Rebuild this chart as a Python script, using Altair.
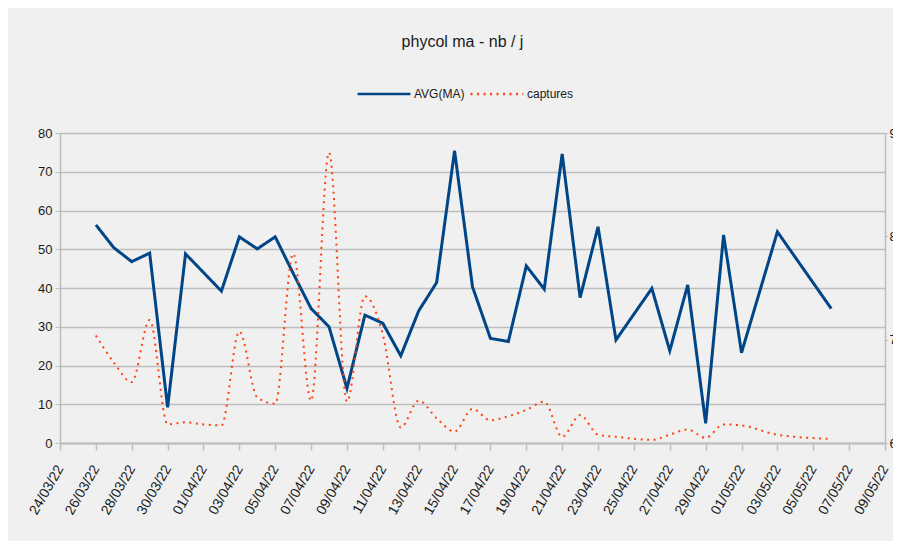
import altair as alt
import pandas as pd

# ---- data ----
dates = ["2022-03-26", "2022-03-27", "2022-03-28", "2022-03-29", "2022-03-30",
         "2022-03-31", "2022-04-01", "2022-04-02", "2022-04-03", "2022-04-04",
         "2022-04-05", "2022-04-06", "2022-04-07", "2022-04-08", "2022-04-09",
         "2022-04-10", "2022-04-11", "2022-04-12", "2022-04-13", "2022-04-14",
         "2022-04-15", "2022-04-16", "2022-04-17", "2022-04-18", "2022-04-19",
         "2022-04-20", "2022-04-21", "2022-04-22", "2022-04-23", "2022-04-24",
         "2022-04-26", "2022-04-27", "2022-04-28", "2022-04-29", "2022-04-30",
         "2022-05-01", "2022-05-03", "2022-05-06"]

avg_ma = [56.3, 50.4, 46.8, 49.0, 9.2, 48.8, 44.0, 39.2, 53.2, 50.1,
          53.2, 43.8, 34.7, 30.0, 14.1, 33.0, 30.9, 22.5, 34.1, 41.4,
          75.4, 40.3, 27.0, 26.2, 45.7, 39.7, 74.6, 37.5, 55.8, 26.6,
          39.9, 23.8, 40.8, 5.1, 53.7, 23.3, 54.5, 34.7]

captures = [7.04, 6.78, 6.59, 7.19, 6.18, 6.20, 6.18, 6.17, 7.08, 6.44,
            6.38, 7.83, 6.41, 8.81, 6.40, 7.42, 7.05, 6.15, 6.41, 6.24,
            6.11, 6.33, 6.22, 6.26, 6.32, 6.40, 6.06, 6.27, 6.08, 6.06,
            6.03, 6.08, 6.13, 6.05, 6.18, 6.17, 6.08, 6.04]

series_names = ["AVG(MA)", "captures"]
series_colors = ["#004586", "#ff420e"]
left_ticks = [0, 10, 20, 30, 40, 50, 60, 70, 80]
right_ticks = [6, 7, 8, 9]

FONT = "Liberation Sans"
TEXT = "#1a1a1a"
GRID = "#bdbdbd"

rows = []
for d, v in zip(dates, avg_ma):
    rows.append({"date": d + "T00:00:00", "value": v, "series": series_names[0]})
for d, v in zip(dates, captures):
    rows.append({"date": d + "T00:00:00", "value": v, "series": series_names[1]})
df = pd.DataFrame(rows)

# tick dates every 2 days from 24/03/22 to 09/05/22
tick_dates = pd.date_range("2022-03-24", "2022-05-09", freq="2D")
x_values = [alt.DateTime(year=t.year, month=t.month, date=t.day) for t in tick_dates]
x_domain = [alt.DateTime(year=2022, month=3, date=24), alt.DateTime(year=2022, month=5, date=9)]

legend = alt.Legend(
    title=None, orient="none", direction="horizontal",
    legendX=296, legendY=-67,
    symbolType="stroke", symbolSize=2800, symbolStrokeWidth=2.5,
    labelFont=FONT, labelFontSize=12, labelColor=TEXT,
    labelOffset=2, columnPadding=0,
)

color = alt.Color("series:N", scale=alt.Scale(domain=series_names, range=series_colors), legend=legend)
dash = alt.StrokeDash("series:N", scale=alt.Scale(domain=series_names, range=[[1, 0], [2, 4.5]]), legend=legend)

x = alt.X("date:T", scale=alt.Scale(domain=x_domain),
          axis=alt.Axis(values=x_values, format="%d/%m/%y", labelAngle=-60,
                        labelAlign="right", labelBaseline="middle", labelOverlap=False,
                        tickSize=7, labelPadding=16, grid=False, title=None,
                        labelFont=FONT, labelFontSize=14, labelColor=TEXT,
                        domainColor=GRID, domainWidth=2, tickColor=GRID, tickWidth=1.5))

base = alt.Chart(df)

avg_layer = base.transform_filter(alt.datum.series == series_names[0]).mark_line(
    strokeWidth=3, strokeJoin="miter"
).encode(
    x=x,
    y=alt.Y("value:Q", scale=alt.Scale(domain=[0, 80], nice=False),
            axis=alt.Axis(values=left_ticks, title=None, grid=True, gridColor=GRID,
                          gridWidth=1.3, tickSize=5, labelPadding=3,
                          labelFont=FONT, labelFontSize=13, labelColor=TEXT,
                          domainColor=GRID, domainWidth=1.5, tickColor=GRID)),
    color=color,
    strokeDash=dash,
)

cap_layer = base.transform_filter(alt.datum.series == series_names[1]).mark_line(
    strokeWidth=2, interpolate="monotone"
).encode(
    x=x,
    y=alt.Y("value:Q", scale=alt.Scale(domain=[6, 9], nice=False),
            axis=alt.Axis(values=right_ticks, orient="right", title=None, grid=False,
                          tickSize=3, labelPadding=1,
                          labelFont=FONT, labelFontSize=13, labelColor=TEXT,
                          domainColor=GRID, domainWidth=1.5, tickColor=GRID)),
    color=color,
    strokeDash=dash,
)

chart = alt.layer(avg_layer, cap_layer).resolve_scale(y="independent").properties(
    width=825, height=310,
    autosize=alt.AutoSizeParams(type="none"),
    padding={"left": 52, "top": 125, "right": 8, "bottom": 98},
    title=alt.TitleParams("phycol ma - nb / j", font=FONT, fontSize=16, fontWeight="normal",
                          color=TEXT, anchor="middle", dx=-10, offset=16),
).configure(background="#f0f0f0").configure_view(stroke=None)

chart.save("out.html", embed_options={"renderer": "svg", "actions": False})
